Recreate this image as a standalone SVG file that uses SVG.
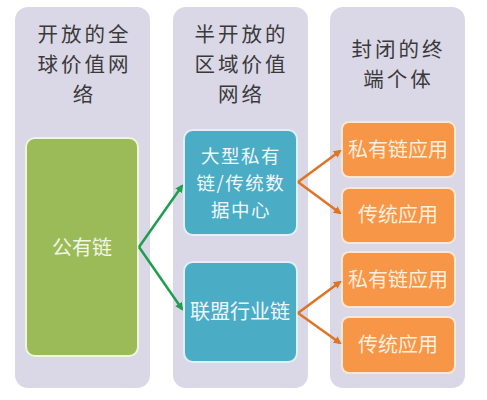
<svg xmlns="http://www.w3.org/2000/svg" width="487" height="400" viewBox="0 0 487 400">
<defs>
<style>
.col{fill:#dad8e7;}
.title{font-family:"Noto Sans CJK SC","Noto Sans",sans-serif;font-size:20.5px;letter-spacing:3px;fill:#3a3a3a;text-anchor:middle;}
.lbl{font-family:"Noto Sans CJK SC","Noto Sans",sans-serif;font-size:20px;text-anchor:middle;}
.lbl2{font-family:"Noto Sans CJK SC","Noto Sans",sans-serif;font-size:18.5px;letter-spacing:1.5px;text-anchor:middle;}
.green{fill:#9bbb59;stroke:#eef6dc;stroke-width:2;}
.blue{fill:#4bacc6;stroke:#dff1f6;stroke-width:2;}
.orange{fill:#f79646;stroke:#fde6d3;stroke-width:2;}
.gc{fill:none;stroke:#1f9e4f;stroke-width:2.5;}
.oc{fill:none;stroke:#de7424;stroke-width:2.5;}
</style>
<marker id="ag" markerWidth="8" markerHeight="8" refX="6" refY="4" orient="auto" markerUnits="userSpaceOnUse">
<path d="M0,0 L8,4 L0,8 Z" fill="#1f9e4f"/>
</marker>
<marker id="ao" markerWidth="8" markerHeight="8" refX="6" refY="4" orient="auto" markerUnits="userSpaceOnUse">
<path d="M0,0 L8,4 L0,8 Z" fill="#de7424"/>
</marker>
</defs>
<rect width="487" height="400" fill="#ffffff"/>
<g id="col1">
<rect class="col" x="15" y="7" width="135" height="381" rx="13"/>
<text class="title" x="84.5" y="42"><tspan x="84.5">开放的全</tspan><tspan x="84.5" dy="30">球价值网</tspan><tspan x="84.5" dy="30">络</tspan></text>
</g>
<g id="col2">
<rect class="col" x="173" y="7" width="135" height="381" rx="13"/>
<text class="title" x="241.5" y="42"><tspan x="241.5">半开放的</tspan><tspan x="241.5" dy="30">区域价值</tspan><tspan x="241.5" dy="30">网络</tspan></text>
</g>
<g id="col3">
<rect class="col" x="330" y="7" width="135" height="381" rx="13"/>
<text class="title" x="398.5" y="57"><tspan x="398.5">封闭的终</tspan><tspan x="398.5" dy="30">端个体</tspan></text>
</g>
<g id="public">
<rect class="green" x="26" y="138" width="112" height="218" rx="9"/>
<text class="lbl" x="82" y="255" fill="#f2f7e4">公有链</text>
</g>
<g id="private-dc">
<rect class="blue" x="184" y="130" width="113" height="105" rx="9"/>
<text class="lbl2" x="241" y="163" fill="#eef8fb"><tspan x="241">大型私有</tspan><tspan x="241" dy="27">链/传统数</tspan><tspan x="241" dy="27">据中心</tspan></text>
</g>
<g id="consortium">
<rect class="blue" x="184" y="262" width="113" height="100" rx="9"/>
<text class="lbl" x="240" y="319" fill="#eef8fb">联盟行业链</text>
</g>
<g id="app1">
<rect class="orange" x="342" y="122" width="113" height="55" rx="7"/>
<text class="lbl" x="398" y="157" fill="#fdeede">私有链应用</text>
</g>
<g id="app2">
<rect class="orange" x="342" y="188" width="113" height="55" rx="7"/>
<text class="lbl" x="398" y="222" fill="#fdeede">传统应用</text>
</g>
<g id="app3">
<rect class="orange" x="342" y="252" width="113" height="55" rx="7"/>
<text class="lbl" x="398" y="287" fill="#fdeede">私有链应用</text>
</g>
<g id="app4">
<rect class="orange" x="342" y="317" width="113" height="56" rx="7"/>
<text class="lbl" x="398" y="352" fill="#fdeede">传统应用</text>
</g>
<g id="connectors">
<path class="gc" d="M139,247 L182,186" marker-end="url(#ag)"/>
<path class="gc" d="M139,247 L182,309" marker-end="url(#ag)"/>
<path class="oc" d="M298,182 L340,151" marker-end="url(#ao)"/>
<path class="oc" d="M298,182 L340,213" marker-end="url(#ao)"/>
<path class="oc" d="M298,313 L340,282" marker-end="url(#ao)"/>
<path class="oc" d="M298,313 L340,343" marker-end="url(#ao)"/>
</g>
</svg>
